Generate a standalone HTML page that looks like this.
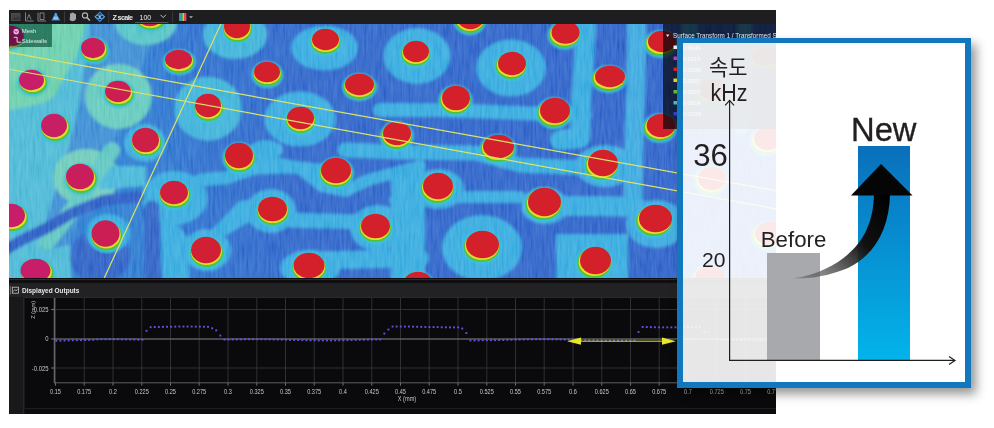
<!DOCTYPE html>
<html><head><meta charset="utf-8">
<style>
html,body{margin:0;padding:0;}
body{width:994px;height:428px;background:#fff;position:relative;overflow:hidden;font-family:"Liberation Sans","Noto Sans CJK KR",sans-serif;}
.abs{position:absolute;}
#win{left:9px;top:10px;width:767px;height:404px;background:#0a0a0c;}
#tb{left:9px;top:10px;width:767px;height:14px;background:#1e1e20;}
#map{left:9px;top:24px;}
#mesh{left:9px;top:24px;width:43px;height:23px;background:rgba(0,72,48,0.62);color:#dfeee8;font-size:6px;line-height:7px;overflow:hidden;}
#legend{left:663px;top:24px;width:113px;height:104.5px;background:rgba(4,4,10,0.70);}
#sep{left:9px;top:278px;width:767px;height:19px;background:#0f0f11;}
#hdr{left:9px;top:283px;width:767px;height:13.7px;background:#222225;}
#plot{left:9px;top:297px;}
#box{left:677px;top:38px;width:282px;height:338.7px;border-style:solid;border-color:#1377be;border-width:5px 6px 6px 6px;background:rgba(255,255,255,0.9);box-shadow:5px 6px 10px rgba(0,0,0,0.42);}
.t{position:absolute;white-space:nowrap;color:#231f20;line-height:1;}
</style></head>
<body>
<div id="win" class="abs"></div>
<div id="tb" class="abs">
<svg width="767" height="14" viewBox="9 10 767 14" style="position:absolute;left:0;top:0">
 <g fill="none" stroke="#5d5d60" stroke-width="0.9">
  <rect x="11.5" y="13.5" width="8.5" height="7" fill="#444447" stroke="#505053"/>
  <path d="M12 20 L14.5 17 L16 18.5 L18 16 L19.5 17.5 L19.5 20 Z" fill="#353538" stroke="none"/>
  <path d="M25.5 12.5 V21 H33.5 M27 19.5 L29 14.5 L31 19.5" stroke="#8a8a8e"/>
  <path d="M38 12.5 V21 H46 M40 13 H44 V19.5 H40 Z" stroke="#8a8a8e"/>
 </g>
 <path d="M55.8 12.3 L60.3 20.6 L51.3 20.6 Z" fill="#3a86d0"/>
 <circle cx="55.8" cy="14.6" r="1.3" fill="#5aa6e8"/>
 <path d="M54 16.5 L57.6 16.5 L58.6 19.6 L53 19.6 Z" fill="#8cc6f0"/>
 <line x1="64.5" y1="11.5" x2="64.5" y2="22.5" stroke="#3b3b3e"/>
 <path d="M70 17 L70 13.5 Q70.8 12.8 71.5 13.5 L71.5 12.8 Q72.3 12 73 12.8 L73 13 Q73.8 12.4 74.5 13.2 L74.5 14 Q75.3 13.5 76 14.3 L76 19 Q75 21.3 72.5 21.3 Q70.3 21.3 69.5 19.5 Z" fill="#a4a4a8"/>
 <circle cx="85" cy="15.5" r="2.6" fill="none" stroke="#b4b4b8" stroke-width="1.1"/>
 <line x1="87" y1="17.5" x2="89.8" y2="20.5" stroke="#b4b4b8" stroke-width="1.5"/>
 <path d="M99.8 12.2 L104.4 16.8 L99.8 21.4 L95.2 16.8 Z" fill="none" stroke="#3b8ee0" stroke-width="1.1"/>
 <ellipse cx="99.8" cy="16.8" rx="4.6" ry="1.8" fill="none" stroke="#5aa6ee" stroke-width="1"/>
 <circle cx="99.8" cy="16.8" r="1.2" fill="#8cc6f4"/>
 <line x1="108.8" y1="11.5" x2="108.8" y2="22.5" stroke="#3b3b3e"/>
 <text x="112.5" y="19.6" fill="#e8e8ea" font-size="7.2" font-weight="bold" font-family="Liberation Sans, sans-serif" textLength="20.5">Z scale</text>
 <text x="139.5" y="20.3" fill="#ececee" font-size="7" font-family="Liberation Sans, sans-serif">100</text>
 <line x1="135" y1="22.6" x2="168.5" y2="22.6" stroke="#6c6c70" stroke-width="0.8"/>
 <path d="M160.5 14.8 L163.2 17.6 L165.9 14.8" fill="none" stroke="#d0d0d4" stroke-width="0.9"/>
 <line x1="172.6" y1="11.5" x2="172.6" y2="22.5" stroke="#3b3b3e"/>
 <rect x="179" y="13" width="1.3" height="8" fill="#4a7cf0"/>
 <rect x="180.3" y="13" width="1.2" height="8" fill="#38c8e8"/>
 <rect x="181.5" y="13" width="1.2" height="8" fill="#48d048"/>
 <rect x="182.7" y="13" width="1.2" height="8" fill="#ece834"/>
 <rect x="183.9" y="13" width="1.2" height="8" fill="#f04040"/>
 <rect x="185.1" y="13" width="1.2" height="8" fill="#e850b0"/>
 <path d="M189 16.3 L193 16.3 L191 18.3 Z" fill="#b0b0b4"/>
</svg>
</div>
<svg id="map" class="abs" width="767" height="254" viewBox="9 24 767 254">
<defs>
 <filter id="b1" x="-30%" y="-30%" width="160%" height="160%"><feGaussianBlur stdDeviation="1.2"/></filter>
 <filter id="b2" x="-30%" y="-30%" width="160%" height="160%"><feGaussianBlur stdDeviation="1.7"/></filter>
 <filter id="b3" x="-30%" y="-30%" width="160%" height="160%"><feGaussianBlur stdDeviation="5"/></filter>
 <filter id="noise" x="0" y="0" width="994" height="428" filterUnits="userSpaceOnUse"><feTurbulence type="fractalNoise" baseFrequency="0.45 0.05" numOctaves="2" seed="3"/><feColorMatrix type="matrix" values="1 0 0 0 0  1 0 0 0 0  1 0 0 0 0  0 0 0 0 1"/></filter>
</defs>
<linearGradient id="gbase" gradientUnits="userSpaceOnUse" x1="0" y1="0" x2="994" y2="0"><stop offset="0.12" stop-color="#2c7ad0"/><stop offset="0.2" stop-color="#2d6ccc"/><stop offset="0.3" stop-color="#2e62c8"/><stop offset="1" stop-color="#2d5cc6"/></linearGradient>
<rect x="0" y="0" width="994" height="428" fill="url(#gbase)"/>
<g filter="url(#b2)">
<path d="M0,0 L125,0 L112,40 L100,80 L92,115 L80,150 L62,195 L45,240 L36,290 L0,290 Z" fill="#48b6d4" />
<path d="M0,0 L90,0 L80,50 L60,85 L35,105 L0,112 Z" fill="#68cdaa" />
<path d="M92,0 L160,0 L150,45 L132,95 L118,135 L100,160 L85,200 L70,240 L60,290 L30,290 L42,235 L55,190 L68,150 L78,110 L86,60 Z" fill="#3b8ad2" />
<ellipse cx="146" cy="22" rx="31" ry="23" fill="#52c2c4"/>
<ellipse cx="235" cy="35" rx="32" ry="24" fill="#3cb0d8"/>
<ellipse cx="324.5" cy="48" rx="33.5" ry="22.5" fill="#36a8de"/>
<ellipse cx="417" cy="56" rx="33.5" ry="28" fill="#36a8de"/>
<ellipse cx="511" cy="68" rx="35" ry="28.5" fill="#36a8de"/>
<ellipse cx="30" cy="83" rx="30" ry="22" fill="#68cdaa"/>
<ellipse cx="118.5" cy="96.5" rx="33.5" ry="32.5" fill="#62c8bc"/>
<ellipse cx="208" cy="108.7" rx="34" ry="32" fill="#3cb0d8"/>
<ellipse cx="300" cy="119" rx="35.7" ry="27.6" fill="#36a8de"/>
<ellipse cx="86" cy="177" rx="33" ry="28" fill="#6ccab8"/>
<ellipse cx="145" cy="143" rx="21" ry="19" fill="#3aa8dc"/>
<ellipse cx="174.5" cy="198" rx="33" ry="27" fill="#36a8de"/>
<path d="M100,166 L146,166 L146,186 L100,190 Z" fill="#45b4d8" />
<path d="M112,150 L80,200 L45,245 L20,285" fill="none" stroke="#5cc4c0" stroke-width="16" stroke-linejoin="round" stroke-linecap="round"/>
<path d="M0,225 L30,235 L45,250 L70,245 L72,290 L0,290 Z" fill="#48b6d4" />
<path d="M139,197 L104,200 L72,213 L47,228 L22,240 L5,250" fill="none" stroke="#2c5ac2" stroke-width="11" stroke-linejoin="round" stroke-linecap="round"/>
<ellipse cx="100" cy="256" rx="30" ry="27" fill="#2e5ec4"/>
<path d="M152,208 L153,290" fill="none" stroke="#2e5ec4" stroke-width="15" stroke-linejoin="round" stroke-linecap="round"/>
<ellipse cx="108" cy="233" rx="22" ry="19" fill="#36a8de"/>
<path d="M161,221 L172,219 L188,237 L190,290 L163,290 L161,247 Z" fill="#36a8de" />
<path d="M239,201 L260,198 L260,216 L223,237 L208,234 Z" fill="#36a8de" />
<path d="M200,180 L225,178 L255,168 L290,167 L320,170" fill="none" stroke="#36a8de" stroke-width="13" stroke-linejoin="round" stroke-linecap="round"/>
<path d="M262,160 L300,168 L322,186 L345,191 L368,180 L420,166" fill="none" stroke="#36a8de" stroke-width="12" stroke-linejoin="round" stroke-linecap="round"/>
<path d="M289,220 L362,222" fill="none" stroke="#36a8de" stroke-width="15" stroke-linejoin="round" stroke-linecap="round"/>
<path d="M300,261 L420,258" fill="none" stroke="#36a8de" stroke-width="18" stroke-linejoin="round" stroke-linecap="round"/>
<path d="M391,174 L425,170 L425,290 L391,290 Z" fill="#36a8de" />
<ellipse cx="266" cy="150" rx="17" ry="10" fill="#36a8de"/>
<path d="M345,150 L400,152 L476,153 L520,165 L585,168" fill="none" stroke="#36a8de" stroke-width="15" stroke-linejoin="round" stroke-linecap="round"/>
<path d="M380,110 L440,110 L520,113 L585,115" fill="none" stroke="#36a8de" stroke-width="14" stroke-linejoin="round" stroke-linecap="round"/>
<path d="M586,20 L584,60 L581,100 L580,138 L560,140" fill="none" stroke="#36a8de" stroke-width="20" stroke-linejoin="round" stroke-linecap="round"/>
<path d="M637,20 L636,80 L634,140 L633,200" fill="none" stroke="#3aa6de" stroke-width="19" stroke-linejoin="round" stroke-linecap="round"/>
<ellipse cx="438" cy="189" rx="26" ry="20" fill="#36a8de"/>
<ellipse cx="482" cy="248" rx="40" ry="33" fill="#36a8de"/>
<ellipse cx="378" cy="228" rx="28" ry="23" fill="#36a8de"/>
<ellipse cx="310" cy="268" rx="30" ry="18" fill="#36a8de"/>
<path d="M393,204 L417,204 L417,290 L393,290 Z" fill="#36a8de" />
<path d="M395,200 L460,197 L520,197" fill="none" stroke="#36a8de" stroke-width="12" stroke-linejoin="round" stroke-linecap="round"/>
<path d="M560,206 L600,206 L637,207" fill="none" stroke="#36a8de" stroke-width="20" stroke-linejoin="round" stroke-linecap="round"/>
<ellipse cx="271" cy="211" rx="25" ry="22" fill="#36a8de"/>
<path d="M556,234 L628,234 L628,290 L556,290 Z" fill="#36a8de" />
<ellipse cx="605" cy="166" rx="30" ry="21" fill="#38a6de"/>
<ellipse cx="656" cy="224" rx="30" ry="24" fill="#38a6de"/>
<ellipse cx="207" cy="250" rx="24" ry="21" fill="#36a8de"/>
<ellipse cx="545" cy="206" rx="24" ry="18" fill="#3aa6de"/>
<ellipse cx="713" cy="93" rx="34" ry="27" fill="#36a8de"/>
<path d="M690,20 L688,80" fill="none" stroke="#36a8de" stroke-width="16" stroke-linejoin="round" stroke-linecap="round"/>
<path d="M745,20 L742,128" fill="none" stroke="#36a8de" stroke-width="14" stroke-linejoin="round" stroke-linecap="round"/>
</g>
<rect x="0" y="0" width="994" height="428" filter="url(#noise)" opacity="0.5" style="mix-blend-mode:soft-light"/>
<ellipse cx="150.8" cy="17.1" rx="17.2" ry="15.1" fill="#3cc4d8" opacity="0.9" filter="url(#b1)"/>
<ellipse cx="151.0" cy="17.1" rx="15.4" ry="12.9" fill="#52c23e"/>
<ellipse cx="150.6" cy="16.0" rx="14.5" ry="12.1" fill="#e4dc28"/>
<ellipse cx="150.0" cy="14.5" rx="14.0" ry="11.7" fill="rgb(206,31,70)"/>
<ellipse cx="237.4" cy="29.1" rx="16.2" ry="15.1" fill="#3cc4d8" opacity="0.9" filter="url(#b1)"/>
<ellipse cx="237.5" cy="29.1" rx="14.4" ry="12.9" fill="#52c23e"/>
<ellipse cx="237.3" cy="28.0" rx="13.5" ry="12.1" fill="#e4dc28"/>
<ellipse cx="237.0" cy="26.5" rx="13.0" ry="11.7" fill="rgb(211,31,42)"/>
<ellipse cx="94.1" cy="50.6" rx="15.2" ry="13.6" fill="#3cc4d8" opacity="0.9" filter="url(#b1)"/>
<ellipse cx="94.3" cy="50.6" rx="13.4" ry="11.4" fill="#52c23e"/>
<ellipse cx="93.8" cy="49.5" rx="12.5" ry="10.6" fill="#e4dc28"/>
<ellipse cx="93.0" cy="48.0" rx="12.0" ry="10.2" fill="rgb(203,30,88)"/>
<ellipse cx="179.2" cy="62.1" rx="16.7" ry="13.1" fill="#3cc4d8" opacity="0.9" filter="url(#b1)"/>
<ellipse cx="179.3" cy="62.1" rx="14.9" ry="10.9" fill="#52c23e"/>
<ellipse cx="179.0" cy="61.0" rx="14.0" ry="10.1" fill="#e4dc28"/>
<ellipse cx="178.5" cy="59.5" rx="13.5" ry="9.7" fill="rgb(208,31,61)"/>
<ellipse cx="32.8" cy="82.6" rx="15.7" ry="13.6" fill="#3cc4d8" opacity="0.9" filter="url(#b1)"/>
<ellipse cx="33.1" cy="82.6" rx="13.9" ry="11.4" fill="#52c23e"/>
<ellipse cx="32.5" cy="81.5" rx="13.0" ry="10.6" fill="#e4dc28"/>
<ellipse cx="31.5" cy="80.0" rx="12.5" ry="10.2" fill="rgb(200,30,105)"/>
<ellipse cx="118.9" cy="94.1" rx="16.2" ry="14.1" fill="#3cc4d8" opacity="0.9" filter="url(#b1)"/>
<ellipse cx="119.2" cy="94.1" rx="14.4" ry="11.9" fill="#52c23e"/>
<ellipse cx="118.7" cy="93.0" rx="13.5" ry="11.1" fill="#e4dc28"/>
<ellipse cx="118.0" cy="91.5" rx="13.0" ry="10.7" fill="rgb(204,30,80)"/>
<ellipse cx="55.2" cy="128.1" rx="16.2" ry="15.1" fill="#3cc4d8" opacity="0.9" filter="url(#b1)"/>
<ellipse cx="55.5" cy="128.1" rx="14.4" ry="12.9" fill="#52c23e"/>
<ellipse cx="54.9" cy="127.0" rx="13.5" ry="12.1" fill="#e4dc28"/>
<ellipse cx="54.0" cy="125.5" rx="13.0" ry="11.7" fill="rgb(200,30,100)"/>
<ellipse cx="146.3" cy="142.6" rx="16.7" ry="15.6" fill="#3cc4d8" opacity="0.9" filter="url(#b1)"/>
<ellipse cx="146.5" cy="142.6" rx="14.9" ry="13.4" fill="#52c23e"/>
<ellipse cx="146.1" cy="141.5" rx="14.0" ry="12.6" fill="#e4dc28"/>
<ellipse cx="145.5" cy="140.0" rx="13.5" ry="12.2" fill="rgb(206,31,71)"/>
<ellipse cx="8.3" cy="38.1" rx="16.2" ry="13.1" fill="#3cc4d8" opacity="0.9" filter="url(#b1)"/>
<ellipse cx="8.6" cy="38.1" rx="14.4" ry="10.9" fill="#52c23e"/>
<ellipse cx="8.0" cy="37.0" rx="13.5" ry="10.1" fill="#e4dc28"/>
<ellipse cx="7.0" cy="35.5" rx="13.0" ry="9.7" fill="rgb(200,30,105)"/>
<ellipse cx="81.1" cy="179.1" rx="17.2" ry="16.1" fill="#3cc4d8" opacity="0.9" filter="url(#b1)"/>
<ellipse cx="81.4" cy="179.1" rx="15.4" ry="13.9" fill="#52c23e"/>
<ellipse cx="80.8" cy="178.0" rx="14.5" ry="13.1" fill="#e4dc28"/>
<ellipse cx="80.0" cy="176.5" rx="14.0" ry="12.7" fill="rgb(202,30,92)"/>
<ellipse cx="174.7" cy="195.1" rx="17.2" ry="15.1" fill="#3cc4d8" opacity="0.9" filter="url(#b1)"/>
<ellipse cx="174.9" cy="195.1" rx="15.4" ry="12.9" fill="#52c23e"/>
<ellipse cx="174.5" cy="194.0" rx="14.5" ry="12.1" fill="#e4dc28"/>
<ellipse cx="174.0" cy="192.5" rx="14.0" ry="11.7" fill="rgb(208,31,62)"/>
<ellipse cx="12.3" cy="218.1" rx="17.2" ry="15.1" fill="#3cc4d8" opacity="0.9" filter="url(#b1)"/>
<ellipse cx="12.6" cy="218.1" rx="15.4" ry="12.9" fill="#52c23e"/>
<ellipse cx="12.0" cy="217.0" rx="14.5" ry="12.1" fill="#e4dc28"/>
<ellipse cx="11.0" cy="215.5" rx="14.0" ry="11.7" fill="rgb(200,30,105)"/>
<ellipse cx="106.5" cy="236.1" rx="17.2" ry="16.6" fill="#3cc4d8" opacity="0.9" filter="url(#b1)"/>
<ellipse cx="106.7" cy="236.1" rx="15.4" ry="14.4" fill="#52c23e"/>
<ellipse cx="106.2" cy="235.0" rx="14.5" ry="13.6" fill="#e4dc28"/>
<ellipse cx="105.5" cy="233.5" rx="14.0" ry="13.2" fill="rgb(203,30,84)"/>
<ellipse cx="36.8" cy="273.1" rx="18.2" ry="15.1" fill="#3cc4d8" opacity="0.9" filter="url(#b1)"/>
<ellipse cx="37.1" cy="273.1" rx="16.4" ry="12.9" fill="#52c23e"/>
<ellipse cx="36.5" cy="272.0" rx="15.5" ry="12.1" fill="#e4dc28"/>
<ellipse cx="35.5" cy="270.5" rx="15.0" ry="11.7" fill="rgb(200,30,105)"/>
<ellipse cx="206.6" cy="252.6" rx="18.2" ry="16.6" fill="#3cc4d8" opacity="0.9" filter="url(#b1)"/>
<ellipse cx="206.7" cy="252.6" rx="16.4" ry="14.4" fill="#52c23e"/>
<ellipse cx="206.4" cy="251.5" rx="15.5" ry="13.6" fill="#e4dc28"/>
<ellipse cx="206.0" cy="250.0" rx="15.0" ry="13.2" fill="rgb(209,31,52)"/>
<ellipse cx="325.5" cy="42.1" rx="16.7" ry="14.1" fill="#3cc4d8" opacity="0.9" filter="url(#b1)"/>
<ellipse cx="325.5" cy="42.1" rx="14.9" ry="11.9" fill="#52c23e"/>
<ellipse cx="325.5" cy="41.0" rx="14.0" ry="11.1" fill="#e4dc28"/>
<ellipse cx="325.5" cy="39.5" rx="13.5" ry="10.7" fill="rgb(212,32,42)"/>
<ellipse cx="267.3" cy="74.6" rx="16.2" ry="13.6" fill="#3cc4d8" opacity="0.9" filter="url(#b1)"/>
<ellipse cx="267.4" cy="74.6" rx="14.4" ry="11.4" fill="#52c23e"/>
<ellipse cx="267.2" cy="73.5" rx="13.5" ry="10.6" fill="#e4dc28"/>
<ellipse cx="267.0" cy="72.0" rx="13.0" ry="10.2" fill="rgb(212,32,42)"/>
<ellipse cx="359.4" cy="87.1" rx="17.7" ry="14.1" fill="#3cc4d8" opacity="0.9" filter="url(#b1)"/>
<ellipse cx="359.3" cy="87.1" rx="15.9" ry="11.9" fill="#52c23e"/>
<ellipse cx="359.4" cy="86.0" rx="15.0" ry="11.1" fill="#e4dc28"/>
<ellipse cx="359.5" cy="84.5" rx="14.5" ry="10.7" fill="rgb(212,32,42)"/>
<ellipse cx="208.5" cy="108.1" rx="16.2" ry="15.1" fill="#3cc4d8" opacity="0.9" filter="url(#b1)"/>
<ellipse cx="208.7" cy="108.1" rx="14.4" ry="12.9" fill="#52c23e"/>
<ellipse cx="208.4" cy="107.0" rx="13.5" ry="12.1" fill="#e4dc28"/>
<ellipse cx="208.0" cy="105.5" rx="13.0" ry="11.7" fill="rgb(210,31,52)"/>
<ellipse cx="300.6" cy="120.6" rx="16.7" ry="14.6" fill="#3cc4d8" opacity="0.9" filter="url(#b1)"/>
<ellipse cx="300.7" cy="120.6" rx="14.9" ry="12.4" fill="#52c23e"/>
<ellipse cx="300.6" cy="119.5" rx="14.0" ry="11.6" fill="#e4dc28"/>
<ellipse cx="300.5" cy="118.0" rx="13.5" ry="11.2" fill="rgb(212,32,42)"/>
<ellipse cx="239.4" cy="158.1" rx="17.2" ry="16.1" fill="#3cc4d8" opacity="0.9" filter="url(#b1)"/>
<ellipse cx="239.5" cy="158.1" rx="15.4" ry="13.9" fill="#52c23e"/>
<ellipse cx="239.3" cy="157.0" rx="14.5" ry="13.1" fill="#e4dc28"/>
<ellipse cx="239.0" cy="155.5" rx="14.0" ry="12.7" fill="rgb(211,31,42)"/>
<ellipse cx="336.0" cy="173.1" rx="18.2" ry="16.1" fill="#3cc4d8" opacity="0.9" filter="url(#b1)"/>
<ellipse cx="336.0" cy="173.1" rx="16.4" ry="13.9" fill="#52c23e"/>
<ellipse cx="336.0" cy="172.0" rx="15.5" ry="13.1" fill="#e4dc28"/>
<ellipse cx="336.0" cy="170.5" rx="15.0" ry="12.7" fill="rgb(212,32,42)"/>
<ellipse cx="272.8" cy="211.6" rx="17.7" ry="15.6" fill="#3cc4d8" opacity="0.9" filter="url(#b1)"/>
<ellipse cx="272.8" cy="211.6" rx="15.9" ry="13.4" fill="#52c23e"/>
<ellipse cx="272.7" cy="210.5" rx="15.0" ry="12.6" fill="#e4dc28"/>
<ellipse cx="272.5" cy="209.0" rx="14.5" ry="12.2" fill="rgb(212,32,42)"/>
<ellipse cx="375.3" cy="228.6" rx="17.7" ry="15.6" fill="#3cc4d8" opacity="0.9" filter="url(#b1)"/>
<ellipse cx="375.2" cy="228.6" rx="15.9" ry="13.4" fill="#52c23e"/>
<ellipse cx="375.3" cy="227.5" rx="15.0" ry="12.6" fill="#e4dc28"/>
<ellipse cx="375.5" cy="226.0" rx="14.5" ry="12.2" fill="rgb(212,32,42)"/>
<ellipse cx="309.1" cy="268.1" rx="18.7" ry="16.1" fill="#3cc4d8" opacity="0.9" filter="url(#b1)"/>
<ellipse cx="309.1" cy="268.1" rx="16.9" ry="13.9" fill="#52c23e"/>
<ellipse cx="309.1" cy="267.0" rx="16.0" ry="13.1" fill="#e4dc28"/>
<ellipse cx="309.0" cy="265.5" rx="15.5" ry="12.7" fill="rgb(212,32,42)"/>
<ellipse cx="469.9" cy="20.1" rx="16.7" ry="15.1" fill="#3cc4d8" opacity="0.9" filter="url(#b1)"/>
<ellipse cx="469.7" cy="20.1" rx="14.9" ry="12.9" fill="#52c23e"/>
<ellipse cx="470.0" cy="19.0" rx="14.0" ry="12.1" fill="#e4dc28"/>
<ellipse cx="470.5" cy="17.5" rx="13.5" ry="11.7" fill="rgb(212,32,42)"/>
<ellipse cx="564.5" cy="35.1" rx="17.2" ry="14.6" fill="#3cc4d8" opacity="0.9" filter="url(#b1)"/>
<ellipse cx="564.2" cy="35.1" rx="15.4" ry="12.4" fill="#52c23e"/>
<ellipse cx="564.7" cy="34.0" rx="14.5" ry="11.6" fill="#e4dc28"/>
<ellipse cx="565.5" cy="32.5" rx="14.0" ry="11.2" fill="rgb(212,32,42)"/>
<ellipse cx="415.6" cy="54.1" rx="16.2" ry="14.1" fill="#3cc4d8" opacity="0.9" filter="url(#b1)"/>
<ellipse cx="415.5" cy="54.1" rx="14.4" ry="11.9" fill="#52c23e"/>
<ellipse cx="415.7" cy="53.0" rx="13.5" ry="11.1" fill="#e4dc28"/>
<ellipse cx="416.0" cy="51.5" rx="13.0" ry="10.7" fill="rgb(212,32,42)"/>
<ellipse cx="511.2" cy="66.1" rx="17.2" ry="15.1" fill="#3cc4d8" opacity="0.9" filter="url(#b1)"/>
<ellipse cx="511.0" cy="66.1" rx="15.4" ry="12.9" fill="#52c23e"/>
<ellipse cx="511.4" cy="65.0" rx="14.5" ry="12.1" fill="#e4dc28"/>
<ellipse cx="512.0" cy="63.5" rx="14.0" ry="11.7" fill="rgb(212,32,42)"/>
<ellipse cx="455.4" cy="100.6" rx="17.2" ry="15.6" fill="#3cc4d8" opacity="0.9" filter="url(#b1)"/>
<ellipse cx="455.3" cy="100.6" rx="15.4" ry="13.4" fill="#52c23e"/>
<ellipse cx="455.6" cy="99.5" rx="14.5" ry="12.6" fill="#e4dc28"/>
<ellipse cx="456.0" cy="98.0" rx="14.0" ry="12.2" fill="rgb(212,32,42)"/>
<ellipse cx="554.0" cy="113.1" rx="18.2" ry="16.1" fill="#3cc4d8" opacity="0.9" filter="url(#b1)"/>
<ellipse cx="553.8" cy="113.1" rx="16.4" ry="13.9" fill="#52c23e"/>
<ellipse cx="554.2" cy="112.0" rx="15.5" ry="13.1" fill="#e4dc28"/>
<ellipse cx="555.0" cy="110.5" rx="15.0" ry="12.7" fill="rgb(212,32,42)"/>
<ellipse cx="396.7" cy="136.1" rx="17.2" ry="15.1" fill="#3cc4d8" opacity="0.9" filter="url(#b1)"/>
<ellipse cx="396.6" cy="136.1" rx="15.4" ry="12.9" fill="#52c23e"/>
<ellipse cx="396.8" cy="135.0" rx="14.5" ry="12.1" fill="#e4dc28"/>
<ellipse cx="397.0" cy="133.5" rx="14.0" ry="11.7" fill="rgb(212,32,42)"/>
<ellipse cx="497.8" cy="149.1" rx="18.7" ry="15.1" fill="#3cc4d8" opacity="0.9" filter="url(#b1)"/>
<ellipse cx="497.6" cy="149.1" rx="16.9" ry="12.9" fill="#52c23e"/>
<ellipse cx="497.9" cy="148.0" rx="16.0" ry="12.1" fill="#e4dc28"/>
<ellipse cx="498.5" cy="146.5" rx="15.5" ry="11.7" fill="rgb(212,32,42)"/>
<ellipse cx="437.5" cy="188.6" rx="18.2" ry="16.6" fill="#3cc4d8" opacity="0.9" filter="url(#b1)"/>
<ellipse cx="437.4" cy="188.6" rx="16.4" ry="14.4" fill="#52c23e"/>
<ellipse cx="437.6" cy="187.5" rx="15.5" ry="13.6" fill="#e4dc28"/>
<ellipse cx="438.0" cy="186.0" rx="15.0" ry="13.2" fill="rgb(212,32,42)"/>
<ellipse cx="543.5" cy="204.6" rx="19.7" ry="17.6" fill="#3cc4d8" opacity="0.9" filter="url(#b1)"/>
<ellipse cx="543.3" cy="204.6" rx="17.9" ry="15.4" fill="#52c23e"/>
<ellipse cx="543.8" cy="203.5" rx="17.0" ry="14.6" fill="#e4dc28"/>
<ellipse cx="544.5" cy="202.0" rx="16.5" ry="14.2" fill="rgb(212,32,42)"/>
<ellipse cx="481.8" cy="247.1" rx="19.7" ry="17.1" fill="#3cc4d8" opacity="0.9" filter="url(#b1)"/>
<ellipse cx="481.7" cy="247.1" rx="17.9" ry="14.9" fill="#52c23e"/>
<ellipse cx="482.0" cy="246.0" rx="17.0" ry="14.1" fill="#e4dc28"/>
<ellipse cx="482.5" cy="244.5" rx="16.5" ry="13.7" fill="rgb(212,32,42)"/>
<ellipse cx="417.6" cy="287.1" rx="18.2" ry="16.1" fill="#3cc4d8" opacity="0.9" filter="url(#b1)"/>
<ellipse cx="417.5" cy="287.1" rx="16.4" ry="13.9" fill="#52c23e"/>
<ellipse cx="417.7" cy="286.0" rx="15.5" ry="13.1" fill="#e4dc28"/>
<ellipse cx="418.0" cy="284.5" rx="15.0" ry="12.7" fill="rgb(212,32,42)"/>
<ellipse cx="601.8" cy="165.6" rx="18.2" ry="16.6" fill="#3cc4d8" opacity="0.9" filter="url(#b1)"/>
<ellipse cx="601.5" cy="165.6" rx="16.4" ry="14.4" fill="#52c23e"/>
<ellipse cx="602.1" cy="164.5" rx="15.5" ry="13.6" fill="#e4dc28"/>
<ellipse cx="603.0" cy="163.0" rx="15.0" ry="13.2" fill="rgb(212,32,42)"/>
<ellipse cx="654.2" cy="221.1" rx="19.7" ry="17.1" fill="#3cc4d8" opacity="0.9" filter="url(#b1)"/>
<ellipse cx="653.9" cy="221.1" rx="17.9" ry="14.9" fill="#52c23e"/>
<ellipse cx="654.5" cy="220.0" rx="17.0" ry="14.1" fill="#e4dc28"/>
<ellipse cx="655.5" cy="218.5" rx="16.5" ry="13.7" fill="rgb(212,32,42)"/>
<ellipse cx="594.3" cy="263.1" rx="18.7" ry="17.1" fill="#3cc4d8" opacity="0.9" filter="url(#b1)"/>
<ellipse cx="594.0" cy="263.1" rx="16.9" ry="14.9" fill="#52c23e"/>
<ellipse cx="594.6" cy="262.0" rx="16.0" ry="14.1" fill="#e4dc28"/>
<ellipse cx="595.5" cy="260.5" rx="15.5" ry="13.7" fill="rgb(212,32,42)"/>
<ellipse cx="608.8" cy="79.1" rx="18.2" ry="14.1" fill="#3cc4d8" opacity="0.9" filter="url(#b1)"/>
<ellipse cx="608.4" cy="79.1" rx="16.4" ry="11.9" fill="#52c23e"/>
<ellipse cx="609.1" cy="78.0" rx="15.5" ry="11.1" fill="#e4dc28"/>
<ellipse cx="610.0" cy="76.5" rx="15.0" ry="10.7" fill="rgb(212,32,42)"/>
<ellipse cx="660.7" cy="44.1" rx="17.2" ry="14.1" fill="#3cc4d8" opacity="0.9" filter="url(#b1)"/>
<ellipse cx="660.4" cy="44.1" rx="15.4" ry="11.9" fill="#52c23e"/>
<ellipse cx="661.0" cy="43.0" rx="14.5" ry="11.1" fill="#e4dc28"/>
<ellipse cx="662.0" cy="41.5" rx="14.0" ry="10.7" fill="rgb(212,32,42)"/>
<ellipse cx="659.7" cy="128.1" rx="17.5" ry="14.9" fill="#3cc4d8" opacity="0.9" filter="url(#b1)"/>
<ellipse cx="659.4" cy="128.1" rx="15.7" ry="12.7" fill="#52c23e"/>
<ellipse cx="660.0" cy="127.0" rx="14.8" ry="11.9" fill="#e4dc28"/>
<ellipse cx="661.0" cy="125.5" rx="14.3" ry="11.5" fill="rgb(212,32,42)"/>
<ellipse cx="766.7" cy="141.1" rx="17.2" ry="15.1" fill="#3cc4d8" opacity="0.9" filter="url(#b1)"/>
<ellipse cx="766.4" cy="141.1" rx="15.4" ry="12.9" fill="#52c23e"/>
<ellipse cx="767.0" cy="140.0" rx="14.5" ry="12.1" fill="#e4dc28"/>
<ellipse cx="768.0" cy="138.5" rx="14.0" ry="11.7" fill="rgb(212,32,42)"/>
<ellipse cx="710.7" cy="181.1" rx="17.2" ry="15.1" fill="#3cc4d8" opacity="0.9" filter="url(#b1)"/>
<ellipse cx="710.4" cy="181.1" rx="15.4" ry="12.9" fill="#52c23e"/>
<ellipse cx="711.0" cy="180.0" rx="14.5" ry="12.1" fill="#e4dc28"/>
<ellipse cx="712.0" cy="178.5" rx="14.0" ry="11.7" fill="rgb(212,32,42)"/>
<ellipse cx="768.7" cy="236.1" rx="18.2" ry="15.1" fill="#3cc4d8" opacity="0.9" filter="url(#b1)"/>
<ellipse cx="768.4" cy="236.1" rx="16.4" ry="12.9" fill="#52c23e"/>
<ellipse cx="769.0" cy="235.0" rx="15.5" ry="12.1" fill="#e4dc28"/>
<ellipse cx="770.0" cy="233.5" rx="15.0" ry="11.7" fill="rgb(212,32,42)"/>
<ellipse cx="708.7" cy="281.1" rx="18.2" ry="16.1" fill="#3cc4d8" opacity="0.9" filter="url(#b1)"/>
<ellipse cx="708.4" cy="281.1" rx="16.4" ry="13.9" fill="#52c23e"/>
<ellipse cx="709.0" cy="280.0" rx="15.5" ry="13.1" fill="#e4dc28"/>
<ellipse cx="710.0" cy="278.5" rx="15.0" ry="12.7" fill="rgb(212,32,42)"/>
<ellipse cx="763.7" cy="59.1" rx="16.2" ry="13.1" fill="#3cc4d8" opacity="0.9" filter="url(#b1)"/>
<ellipse cx="763.4" cy="59.1" rx="14.4" ry="10.9" fill="#52c23e"/>
<ellipse cx="764.0" cy="58.0" rx="13.5" ry="10.1" fill="#e4dc28"/>
<ellipse cx="765.0" cy="56.5" rx="13.0" ry="9.7" fill="rgb(212,32,42)"/>
<ellipse cx="711.7" cy="92.1" rx="17.2" ry="14.1" fill="#3cc4d8" opacity="0.9" filter="url(#b1)"/>
<ellipse cx="711.4" cy="92.1" rx="15.4" ry="11.9" fill="#52c23e"/>
<ellipse cx="712.0" cy="91.0" rx="14.5" ry="11.1" fill="#e4dc28"/>
<ellipse cx="713.0" cy="89.5" rx="14.0" ry="10.7" fill="rgb(212,32,42)"/>
<g stroke="#dbe466" stroke-width="1.2" fill="none">
<line x1="0" y1="50.8" x2="780" y2="191.4"/>
<line x1="0" y1="67.6" x2="780" y2="209.6"/>
<line x1="241" y1="-20" x2="96" y2="296"/>
</g>
</svg>
<div id="mesh" class="abs">
 <svg width="43" height="23" style="position:absolute;left:0;top:0">
  <ellipse cx="-0.2" cy="12" rx="15" ry="10.6" fill="#6e1248"/>
  <path d="M1 21.6 Q8 23.5 14.5 18 L15.5 18.8 Q9 24 1 23 Z" fill="#8fa040" opacity="0.8"/>
  <path d="M4.4 7.7 Q4.4 4.7 7.2 4.7 Q10 4.7 10 7.7 Q10 10.1 7.2 10.5 Q4.4 10.1 4.4 7.7 Z" fill="#e2b6de"/>
  <path d="M5.6 6.5 L7.2 8.5 L8.8 6.5" stroke="#8a2a7a" stroke-width="0.9" fill="none"/>
  <path d="M4.8 13.3 L8.1 13.3 L8.1 18.2 L12 18.2" stroke="#f0e4f0" stroke-width="0.9" fill="none"/>
 </svg>
 <span style="position:absolute;left:12.7px;top:3.9px;">Mesh</span>
 <span style="position:absolute;left:12.7px;top:13.6px;">Sidewalls</span>
</div>
<div id="legend" class="abs">
 <svg width="113" height="104" style="position:absolute;left:0;top:0">
  <path d="M3 10.5 L6.4 10.5 L4.7 13 Z" fill="#e8e8ea"/>
  <text x="10" y="13.8" fill="#e8e8ec" font-size="6.3" font-family="Liberation Sans, sans-serif">Surface Transform 1 / Transformed S</text>
  <rect x="10.5" y="21.5" width="3.5" height="3.5" fill="#f4f4f4"/>
  <rect x="10.5" y="32.5" width="3.5" height="3.5" fill="#c23ec8"/>
  <rect x="10.5" y="43.5" width="3.5" height="3.5" fill="#e02424"/>
  <rect x="10.5" y="54.5" width="3.5" height="3.5" fill="#e2e02a"/>
  <rect x="10.5" y="66" width="3.5" height="3.5" fill="#5cc63a"/>
  <rect x="10.5" y="77" width="3.5" height="3.5" fill="#48c4cc"/>
  <rect x="10.5" y="88" width="3.5" height="3.5" fill="#3446c4"/>
  <g fill="#d8d8dc" font-size="6" font-family="Liberation Sans, sans-serif">
   <text x="19.5" y="25.5">0.0149</text>
   <text x="19.5" y="36.5">0.0119</text>
   <text x="19.5" y="47.5">0.0088</text>
   <text x="19.5" y="58.5">0.0057</text>
   <text x="19.5" y="70">0.0027</text>
   <text x="17.5" y="81">-0.0004</text>
   <text x="17.5" y="92">-0.0035</text>
  </g>
 </svg>
</div>
<div id="sep" class="abs"></div>
<div class="abs" style="left:9px;top:279.3px;width:767px;height:1.2px;background:#2c2c2f;"></div>
<div id="hdr" class="abs">
 <svg width="20" height="14" style="position:absolute;left:0;top:0">
  <line x1="1.3" y1="3" x2="1.3" y2="11.5" stroke="#8a8a8e" stroke-width="0.8"/>
  <rect x="3.3" y="4.2" width="6.2" height="6" fill="none" stroke="#c4c4c8" stroke-width="0.8"/>
  <path d="M4.3 8.6 L5.8 6.5 L7.2 8 L8.8 5.8" stroke="#c4c4c8" stroke-width="0.7" fill="none"/>
 </svg>
 <svg width="80" height="14" style="position:absolute;left:12.6px;top:0"><text x="0" y="10" font-size="7.4" font-weight="bold" fill="#e6e6ea" font-family="Liberation Sans, sans-serif" textLength="57.4" lengthAdjust="spacingAndGlyphs">Displayed Outputs</text></svg>
</div>
<div class="abs" style="left:9px;top:296.7px;width:767px;height:1px;background:#2a2a2d;"></div>
<svg id="plot" class="abs" width="767" height="117" viewBox="9 297 767 117">
 <rect x="9" y="297" width="14" height="117" fill="#19191b"/>
 <rect x="23" y="297" width="1.5" height="117" fill="#262628"/>
 <rect x="24.5" y="408" width="752" height="1" fill="#1e1e20"/>
 <rect x="24.5" y="409" width="752" height="5" fill="#0c0c0e"/>
 <g stroke="#3a3a3e" stroke-width="0.8">
<line x1="55.5" y1="298" x2="55.5" y2="383"/>
<line x1="84.2" y1="298" x2="84.2" y2="383"/>
<line x1="113.0" y1="298" x2="113.0" y2="383"/>
<line x1="141.8" y1="298" x2="141.8" y2="383"/>
<line x1="170.5" y1="298" x2="170.5" y2="383"/>
<line x1="199.2" y1="298" x2="199.2" y2="383"/>
<line x1="228.0" y1="298" x2="228.0" y2="383"/>
<line x1="256.8" y1="298" x2="256.8" y2="383"/>
<line x1="285.5" y1="298" x2="285.5" y2="383"/>
<line x1="314.2" y1="298" x2="314.2" y2="383"/>
<line x1="343.0" y1="298" x2="343.0" y2="383"/>
<line x1="371.8" y1="298" x2="371.8" y2="383"/>
<line x1="400.5" y1="298" x2="400.5" y2="383"/>
<line x1="429.2" y1="298" x2="429.2" y2="383"/>
<line x1="458.0" y1="298" x2="458.0" y2="383"/>
<line x1="486.8" y1="298" x2="486.8" y2="383"/>
<line x1="515.5" y1="298" x2="515.5" y2="383"/>
<line x1="544.2" y1="298" x2="544.2" y2="383"/>
<line x1="573.0" y1="298" x2="573.0" y2="383"/>
<line x1="601.8" y1="298" x2="601.8" y2="383"/>
<line x1="630.5" y1="298" x2="630.5" y2="383"/>
<line x1="659.2" y1="298" x2="659.2" y2="383"/>
<line x1="688.0" y1="298" x2="688.0" y2="383"/>
<line x1="716.8" y1="298" x2="716.8" y2="383"/>
<line x1="745.5" y1="298" x2="745.5" y2="383"/>
<line x1="774.2" y1="298" x2="774.2" y2="383"/>
<line x1="55.5" y1="383" x2="55.5" y2="385.6" stroke="#8a8a8e"/>
<line x1="84.2" y1="383" x2="84.2" y2="385.6" stroke="#8a8a8e"/>
<line x1="113.0" y1="383" x2="113.0" y2="385.6" stroke="#8a8a8e"/>
<line x1="141.8" y1="383" x2="141.8" y2="385.6" stroke="#8a8a8e"/>
<line x1="170.5" y1="383" x2="170.5" y2="385.6" stroke="#8a8a8e"/>
<line x1="199.2" y1="383" x2="199.2" y2="385.6" stroke="#8a8a8e"/>
<line x1="228.0" y1="383" x2="228.0" y2="385.6" stroke="#8a8a8e"/>
<line x1="256.8" y1="383" x2="256.8" y2="385.6" stroke="#8a8a8e"/>
<line x1="285.5" y1="383" x2="285.5" y2="385.6" stroke="#8a8a8e"/>
<line x1="314.2" y1="383" x2="314.2" y2="385.6" stroke="#8a8a8e"/>
<line x1="343.0" y1="383" x2="343.0" y2="385.6" stroke="#8a8a8e"/>
<line x1="371.8" y1="383" x2="371.8" y2="385.6" stroke="#8a8a8e"/>
<line x1="400.5" y1="383" x2="400.5" y2="385.6" stroke="#8a8a8e"/>
<line x1="429.2" y1="383" x2="429.2" y2="385.6" stroke="#8a8a8e"/>
<line x1="458.0" y1="383" x2="458.0" y2="385.6" stroke="#8a8a8e"/>
<line x1="486.8" y1="383" x2="486.8" y2="385.6" stroke="#8a8a8e"/>
<line x1="515.5" y1="383" x2="515.5" y2="385.6" stroke="#8a8a8e"/>
<line x1="544.2" y1="383" x2="544.2" y2="385.6" stroke="#8a8a8e"/>
<line x1="573.0" y1="383" x2="573.0" y2="385.6" stroke="#8a8a8e"/>
<line x1="601.8" y1="383" x2="601.8" y2="385.6" stroke="#8a8a8e"/>
<line x1="630.5" y1="383" x2="630.5" y2="385.6" stroke="#8a8a8e"/>
<line x1="659.2" y1="383" x2="659.2" y2="385.6" stroke="#8a8a8e"/>
<line x1="688.0" y1="383" x2="688.0" y2="385.6" stroke="#8a8a8e"/>
<line x1="716.8" y1="383" x2="716.8" y2="385.6" stroke="#8a8a8e"/>
<line x1="745.5" y1="383" x2="745.5" y2="385.6" stroke="#8a8a8e"/>
<line x1="774.2" y1="383" x2="774.2" y2="385.6" stroke="#8a8a8e"/>
<line x1="51" y1="309.5" x2="54" y2="309.5" stroke="#8a8a8e"/>
<line x1="51" y1="339" x2="54" y2="339" stroke="#8a8a8e"/>
<line x1="51" y1="368" x2="54" y2="368" stroke="#8a8a8e"/>
<line x1="54" y1="309.5" x2="776" y2="309.5"/>
<line x1="54" y1="339" x2="776" y2="339"/>
<line x1="54" y1="368" x2="776" y2="368"/>
 </g>
 <line x1="54.3" y1="298" x2="54.3" y2="383" stroke="#8a8a8e" stroke-width="0.9"/>
 <line x1="54" y1="382.8" x2="776" y2="382.8" stroke="#6a6a6e" stroke-width="0.9"/>
 <line x1="54" y1="339" x2="776" y2="339" stroke="#8a8a8e" stroke-width="0.8"/>
 <g fill="#5c56dc">
<rect x="55.4" y="339.8" width="1.9" height="1.9"/>
<rect x="59.5" y="339.7" width="1.9" height="1.9"/>
<rect x="63.6" y="339.6" width="1.9" height="1.9"/>
<rect x="67.7" y="339.5" width="1.9" height="1.9"/>
<rect x="71.8" y="339.4" width="1.9" height="1.9"/>
<rect x="75.9" y="339.3" width="1.9" height="1.9"/>
<rect x="80.0" y="339.2" width="1.9" height="1.9"/>
<rect x="84.1" y="339.1" width="1.9" height="1.9"/>
<rect x="88.2" y="339.0" width="1.9" height="1.9"/>
<rect x="92.3" y="338.9" width="1.9" height="1.9"/>
<rect x="96.4" y="338.4" width="1.9" height="1.9"/>
<rect x="100.5" y="338.3" width="1.9" height="1.9"/>
<rect x="104.6" y="338.3" width="1.9" height="1.9"/>
<rect x="108.7" y="338.3" width="1.9" height="1.9"/>
<rect x="112.8" y="338.3" width="1.9" height="1.9"/>
<rect x="116.9" y="338.3" width="1.9" height="1.9"/>
<rect x="121.0" y="338.4" width="1.9" height="1.9"/>
<rect x="125.1" y="338.5" width="1.9" height="1.9"/>
<rect x="129.2" y="338.5" width="1.9" height="1.9"/>
<rect x="133.3" y="338.6" width="1.9" height="1.9"/>
<rect x="137.4" y="338.7" width="1.9" height="1.9"/>
<rect x="141.5" y="338.8" width="1.9" height="1.9"/>
<rect x="145.6" y="329.9" width="1.9" height="1.9"/>
<rect x="149.7" y="326.2" width="1.9" height="1.9"/>
<rect x="153.8" y="326.1" width="1.9" height="1.9"/>
<rect x="157.9" y="326.0" width="1.9" height="1.9"/>
<rect x="162.0" y="325.9" width="1.9" height="1.9"/>
<rect x="166.1" y="325.8" width="1.9" height="1.9"/>
<rect x="170.2" y="325.8" width="1.9" height="1.9"/>
<rect x="174.3" y="325.7" width="1.9" height="1.9"/>
<rect x="178.4" y="325.6" width="1.9" height="1.9"/>
<rect x="182.5" y="325.6" width="1.9" height="1.9"/>
<rect x="186.6" y="325.6" width="1.9" height="1.9"/>
<rect x="190.7" y="325.6" width="1.9" height="1.9"/>
<rect x="194.8" y="325.7" width="1.9" height="1.9"/>
<rect x="198.9" y="325.7" width="1.9" height="1.9"/>
<rect x="203.0" y="325.8" width="1.9" height="1.9"/>
<rect x="207.1" y="325.9" width="1.9" height="1.9"/>
<rect x="211.2" y="327.3" width="1.9" height="1.9"/>
<rect x="215.3" y="329.4" width="1.9" height="1.9"/>
<rect x="219.4" y="334.6" width="1.9" height="1.9"/>
<rect x="223.5" y="338.7" width="1.9" height="1.9"/>
<rect x="227.6" y="338.6" width="1.9" height="1.9"/>
<rect x="231.7" y="338.5" width="1.9" height="1.9"/>
<rect x="235.8" y="338.4" width="1.9" height="1.9"/>
<rect x="239.9" y="338.4" width="1.9" height="1.9"/>
<rect x="244.0" y="338.3" width="1.9" height="1.9"/>
<rect x="248.1" y="338.3" width="1.9" height="1.9"/>
<rect x="252.2" y="338.3" width="1.9" height="1.9"/>
<rect x="256.3" y="338.3" width="1.9" height="1.9"/>
<rect x="260.4" y="338.3" width="1.9" height="1.9"/>
<rect x="264.5" y="338.4" width="1.9" height="1.9"/>
<rect x="268.6" y="338.4" width="1.9" height="1.9"/>
<rect x="272.7" y="338.5" width="1.9" height="1.9"/>
<rect x="276.8" y="338.6" width="1.9" height="1.9"/>
<rect x="280.9" y="338.7" width="1.9" height="1.9"/>
<rect x="285.0" y="338.8" width="1.9" height="1.9"/>
<rect x="289.1" y="338.9" width="1.9" height="1.9"/>
<rect x="293.2" y="339.0" width="1.9" height="1.9"/>
<rect x="297.3" y="339.1" width="1.9" height="1.9"/>
<rect x="301.4" y="339.2" width="1.9" height="1.9"/>
<rect x="305.5" y="339.3" width="1.9" height="1.9"/>
<rect x="309.6" y="339.4" width="1.9" height="1.9"/>
<rect x="313.7" y="339.4" width="1.9" height="1.9"/>
<rect x="317.8" y="339.5" width="1.9" height="1.9"/>
<rect x="321.9" y="339.5" width="1.9" height="1.9"/>
<rect x="326.0" y="339.5" width="1.9" height="1.9"/>
<rect x="330.1" y="339.5" width="1.9" height="1.9"/>
<rect x="334.2" y="339.4" width="1.9" height="1.9"/>
<rect x="338.3" y="339.4" width="1.9" height="1.9"/>
<rect x="342.4" y="339.3" width="1.9" height="1.9"/>
<rect x="346.5" y="339.2" width="1.9" height="1.9"/>
<rect x="350.6" y="339.1" width="1.9" height="1.9"/>
<rect x="354.7" y="339.0" width="1.9" height="1.9"/>
<rect x="358.8" y="338.9" width="1.9" height="1.9"/>
<rect x="362.9" y="338.8" width="1.9" height="1.9"/>
<rect x="367.0" y="338.7" width="1.9" height="1.9"/>
<rect x="371.1" y="338.6" width="1.9" height="1.9"/>
<rect x="375.2" y="338.5" width="1.9" height="1.9"/>
<rect x="379.3" y="338.5" width="1.9" height="1.9"/>
<rect x="383.4" y="332.6" width="1.9" height="1.9"/>
<rect x="387.5" y="328.6" width="1.9" height="1.9"/>
<rect x="391.6" y="325.6" width="1.9" height="1.9"/>
<rect x="395.7" y="325.6" width="1.9" height="1.9"/>
<rect x="399.8" y="325.6" width="1.9" height="1.9"/>
<rect x="403.9" y="325.6" width="1.9" height="1.9"/>
<rect x="408.0" y="325.6" width="1.9" height="1.9"/>
<rect x="412.1" y="325.7" width="1.9" height="1.9"/>
<rect x="416.2" y="325.8" width="1.9" height="1.9"/>
<rect x="420.3" y="325.9" width="1.9" height="1.9"/>
<rect x="424.4" y="326.0" width="1.9" height="1.9"/>
<rect x="428.5" y="326.1" width="1.9" height="1.9"/>
<rect x="432.6" y="326.1" width="1.9" height="1.9"/>
<rect x="436.7" y="326.2" width="1.9" height="1.9"/>
<rect x="440.8" y="326.3" width="1.9" height="1.9"/>
<rect x="444.9" y="326.4" width="1.9" height="1.9"/>
<rect x="449.0" y="326.4" width="1.9" height="1.9"/>
<rect x="453.1" y="326.4" width="1.9" height="1.9"/>
<rect x="457.2" y="326.4" width="1.9" height="1.9"/>
<rect x="461.3" y="327.6" width="1.9" height="1.9"/>
<rect x="465.4" y="332.1" width="1.9" height="1.9"/>
<rect x="469.5" y="339.5" width="1.9" height="1.9"/>
<rect x="473.6" y="339.5" width="1.9" height="1.9"/>
<rect x="477.7" y="339.5" width="1.9" height="1.9"/>
<rect x="481.8" y="339.4" width="1.9" height="1.9"/>
<rect x="485.9" y="339.3" width="1.9" height="1.9"/>
<rect x="490.0" y="339.3" width="1.9" height="1.9"/>
<rect x="494.1" y="339.2" width="1.9" height="1.9"/>
<rect x="498.2" y="339.1" width="1.9" height="1.9"/>
<rect x="502.3" y="339.0" width="1.9" height="1.9"/>
<rect x="506.4" y="338.9" width="1.9" height="1.9"/>
<rect x="510.5" y="338.8" width="1.9" height="1.9"/>
<rect x="514.6" y="338.7" width="1.9" height="1.9"/>
<rect x="518.7" y="338.6" width="1.9" height="1.9"/>
<rect x="522.8" y="338.5" width="1.9" height="1.9"/>
<rect x="526.9" y="338.4" width="1.9" height="1.9"/>
<rect x="531.0" y="338.4" width="1.9" height="1.9"/>
<rect x="535.1" y="338.3" width="1.9" height="1.9"/>
<rect x="539.2" y="338.3" width="1.9" height="1.9"/>
<rect x="543.3" y="338.3" width="1.9" height="1.9"/>
<rect x="547.4" y="338.3" width="1.9" height="1.9"/>
<rect x="551.5" y="338.4" width="1.9" height="1.9"/>
<rect x="555.6" y="338.4" width="1.9" height="1.9"/>
<rect x="559.7" y="338.5" width="1.9" height="1.9"/>
<rect x="563.8" y="338.6" width="1.9" height="1.9"/>
<rect x="567.9" y="338.7" width="1.9" height="1.9"/>
<rect x="572.0" y="338.8" width="1.9" height="1.9"/>
<rect x="576.1" y="338.9" width="1.9" height="1.9"/>
<rect x="580.2" y="339.0" width="1.9" height="1.9"/>
<rect x="584.3" y="339.1" width="1.9" height="1.9"/>
<rect x="588.4" y="339.2" width="1.9" height="1.9"/>
<rect x="592.5" y="339.3" width="1.9" height="1.9"/>
<rect x="596.6" y="339.3" width="1.9" height="1.9"/>
<rect x="600.7" y="339.4" width="1.9" height="1.9"/>
<rect x="604.8" y="339.5" width="1.9" height="1.9"/>
<rect x="608.9" y="339.5" width="1.9" height="1.9"/>
<rect x="613.0" y="339.5" width="1.9" height="1.9"/>
<rect x="617.1" y="339.5" width="1.9" height="1.9"/>
<rect x="621.2" y="339.5" width="1.9" height="1.9"/>
<rect x="625.3" y="339.4" width="1.9" height="1.9"/>
<rect x="629.4" y="339.4" width="1.9" height="1.9"/>
<rect x="633.5" y="339.3" width="1.9" height="1.9"/>
<rect x="637.6" y="331.1" width="1.9" height="1.9"/>
<rect x="641.7" y="326.0" width="1.9" height="1.9"/>
<rect x="645.8" y="326.1" width="1.9" height="1.9"/>
<rect x="649.9" y="326.2" width="1.9" height="1.9"/>
<rect x="654.0" y="326.3" width="1.9" height="1.9"/>
<rect x="658.1" y="326.4" width="1.9" height="1.9"/>
<rect x="662.2" y="326.4" width="1.9" height="1.9"/>
<rect x="666.3" y="326.4" width="1.9" height="1.9"/>
<rect x="670.4" y="326.4" width="1.9" height="1.9"/>
<rect x="674.5" y="326.4" width="1.9" height="1.9"/>
<rect x="678.6" y="326.3" width="1.9" height="1.9"/>
<rect x="682.7" y="326.2" width="1.9" height="1.9"/>
<rect x="686.8" y="326.2" width="1.9" height="1.9"/>
<rect x="690.9" y="326.1" width="1.9" height="1.9"/>
<rect x="695.0" y="326.0" width="1.9" height="1.9"/>
<rect x="699.1" y="325.9" width="1.9" height="1.9"/>
<rect x="703.2" y="331.1" width="1.9" height="1.9"/>
<rect x="707.3" y="331.1" width="1.9" height="1.9"/>
<rect x="711.4" y="338.6" width="1.9" height="1.9"/>
<rect x="715.5" y="338.7" width="1.9" height="1.9"/>
<rect x="719.6" y="338.8" width="1.9" height="1.9"/>
<rect x="723.7" y="339.0" width="1.9" height="1.9"/>
<rect x="727.8" y="339.1" width="1.9" height="1.9"/>
<rect x="731.9" y="339.2" width="1.9" height="1.9"/>
<rect x="736.0" y="339.3" width="1.9" height="1.9"/>
<rect x="740.1" y="339.3" width="1.9" height="1.9"/>
<rect x="744.2" y="339.4" width="1.9" height="1.9"/>
<rect x="748.3" y="339.4" width="1.9" height="1.9"/>
<rect x="752.4" y="339.5" width="1.9" height="1.9"/>
<rect x="756.5" y="339.5" width="1.9" height="1.9"/>
<rect x="760.6" y="339.5" width="1.9" height="1.9"/>
<rect x="764.7" y="339.5" width="1.9" height="1.9"/>
<rect x="768.8" y="339.4" width="1.9" height="1.9"/>
<rect x="772.9" y="339.4" width="1.9" height="1.9"/>
 </g>
 <g fill="#e6e62a" stroke="#e6e62a">
  <line x1="575" y1="341.2" x2="668" y2="341.2" stroke-width="1"/>
  <path d="M567 341.2 L581 337.6 L581 344.8 Z" stroke="none"/>
  <path d="M676 341.2 L662 337.6 L662 344.8 Z" stroke="none"/>
 </g>
 <g fill="#c8c8cc" font-size="5.6" font-family="Liberation Sans, sans-serif">
<text transform="translate(55.5,393.6) scale(0.8,1)" text-anchor="middle" font-size="7">0.15</text>
<text transform="translate(84.2,393.6) scale(0.8,1)" text-anchor="middle" font-size="7">0.175</text>
<text transform="translate(113.0,393.6) scale(0.8,1)" text-anchor="middle" font-size="7">0.2</text>
<text transform="translate(141.8,393.6) scale(0.8,1)" text-anchor="middle" font-size="7">0.225</text>
<text transform="translate(170.5,393.6) scale(0.8,1)" text-anchor="middle" font-size="7">0.25</text>
<text transform="translate(199.2,393.6) scale(0.8,1)" text-anchor="middle" font-size="7">0.275</text>
<text transform="translate(228.0,393.6) scale(0.8,1)" text-anchor="middle" font-size="7">0.3</text>
<text transform="translate(256.8,393.6) scale(0.8,1)" text-anchor="middle" font-size="7">0.325</text>
<text transform="translate(285.5,393.6) scale(0.8,1)" text-anchor="middle" font-size="7">0.35</text>
<text transform="translate(314.2,393.6) scale(0.8,1)" text-anchor="middle" font-size="7">0.375</text>
<text transform="translate(343.0,393.6) scale(0.8,1)" text-anchor="middle" font-size="7">0.4</text>
<text transform="translate(371.8,393.6) scale(0.8,1)" text-anchor="middle" font-size="7">0.425</text>
<text transform="translate(400.5,393.6) scale(0.8,1)" text-anchor="middle" font-size="7">0.45</text>
<text transform="translate(429.2,393.6) scale(0.8,1)" text-anchor="middle" font-size="7">0.475</text>
<text transform="translate(458.0,393.6) scale(0.8,1)" text-anchor="middle" font-size="7">0.5</text>
<text transform="translate(486.8,393.6) scale(0.8,1)" text-anchor="middle" font-size="7">0.525</text>
<text transform="translate(515.5,393.6) scale(0.8,1)" text-anchor="middle" font-size="7">0.55</text>
<text transform="translate(544.2,393.6) scale(0.8,1)" text-anchor="middle" font-size="7">0.575</text>
<text transform="translate(573.0,393.6) scale(0.8,1)" text-anchor="middle" font-size="7">0.6</text>
<text transform="translate(601.8,393.6) scale(0.8,1)" text-anchor="middle" font-size="7">0.625</text>
<text transform="translate(630.5,393.6) scale(0.8,1)" text-anchor="middle" font-size="7">0.65</text>
<text transform="translate(659.2,393.6) scale(0.8,1)" text-anchor="middle" font-size="7">0.675</text>
<text transform="translate(688.0,393.6) scale(0.8,1)" text-anchor="middle" font-size="7">0.7</text>
<text transform="translate(716.8,393.6) scale(0.8,1)" text-anchor="middle" font-size="7">0.725</text>
<text transform="translate(745.5,393.6) scale(0.8,1)" text-anchor="middle" font-size="7">0.75</text>
<text transform="translate(774.2,393.6) scale(0.8,1)" text-anchor="middle" font-size="7">0.775</text>
  <text transform="translate(48.6,312.2) scale(0.82,1)" text-anchor="end" font-size="7.2">0.025</text>
  <text transform="translate(48.6,341.4) scale(0.82,1)" text-anchor="end" font-size="7.2">0</text>
  <text transform="translate(48.6,370.6) scale(0.82,1)" text-anchor="end" font-size="7.2">-0.025</text>
  <text transform="translate(407,401) scale(0.85,1)" text-anchor="middle" font-size="6.6">X (mm)</text>
  <text transform="translate(34.6,318.8) rotate(-90)" font-size="5.6">Z (mm)</text>
 </g>
</svg>
<div id="box" class="abs"></div>
<svg class="abs" style="left:0;top:0" width="994" height="428" viewBox="0 0 994 428">
 <defs>
  <linearGradient id="gb" x1="0" y1="0" x2="0" y2="1">
   <stop offset="0" stop-color="#0a6fbb"/>
   <stop offset="1" stop-color="#03b4ea"/>
  </linearGradient>
  <linearGradient id="ga" gradientUnits="userSpaceOnUse" x1="790" y1="280" x2="885" y2="190">
   <stop offset="0" stop-color="#000" stop-opacity="0"/>
   <stop offset="0.2" stop-color="#555" stop-opacity="0.7"/>
   <stop offset="0.6" stop-color="#111"/>
   <stop offset="1" stop-color="#000"/>
  </linearGradient>
 </defs>
 <rect x="767" y="253" width="53" height="107.5" fill="#a7a9ac"/>
 <rect x="858" y="146" width="52" height="214.5" fill="url(#gb)"/>
 <path d="M881 164 L912.5 195.4 L851 195.4 Z" fill="#050505"/>
 <path d="M874 195 C873 225 862 246 838 262 C822 272 806 277 790 278.5 C808 279 826 277 848 268 C876 254 889 228 890 195 Z" fill="url(#ga)"/>
 <g stroke="#231f20" stroke-width="1.2" fill="none">
  <line x1="729.6" y1="100.6" x2="729.6" y2="360.8"/>
  <line x1="729" y1="360.4" x2="954.5" y2="360.4"/>
  <path d="M725.2 105.4 L729.6 100.4 L734 105.4"/>
  <path d="M949 356.4 L955 360.4 L949 364.6"/>
 </g>
 <g fill="#231f20">
  <text x="709" y="74.6" font-size="21.5" font-family="Liberation Sans, Noto Sans CJK KR, sans-serif" textLength="38.5" lengthAdjust="spacingAndGlyphs">속도</text>
  <text x="710.5" y="100.6" font-size="23" font-family="Liberation Sans, sans-serif" textLength="37" lengthAdjust="spacingAndGlyphs">kHz</text>
  <text x="693.3" y="166" font-size="30.5" font-family="Liberation Sans, sans-serif" textLength="34.6" lengthAdjust="spacingAndGlyphs">36</text>
  <text x="702" y="267" font-size="20.5" font-family="Liberation Sans, sans-serif" textLength="23.5" lengthAdjust="spacingAndGlyphs">20</text>
  <text x="760.8" y="247.2" font-size="22" font-family="Liberation Sans, sans-serif" textLength="65.5" lengthAdjust="spacingAndGlyphs">Before</text>
  <text x="851" y="140.8" font-size="33" font-family="Liberation Sans, sans-serif" textLength="65.5" lengthAdjust="spacingAndGlyphs" stroke="#231f20" stroke-width="0.35">New</text>
 </g>
</svg>
</body></html>
